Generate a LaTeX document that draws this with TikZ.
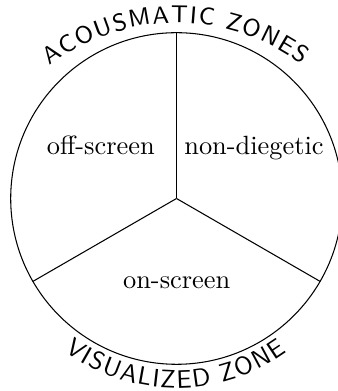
\documentclass[tikz,border=0pt]{standalone}
\usetikzlibrary{decorations.text,calc}
\begin{document}
\begin{tikzpicture}[x=0.379pt,y=0.379pt,
  zonelabel/.style={font=\fontsize{10}{12}\selectfont, anchor=base},
  divider/.style={draw=black, line width=0.4pt}]
\useasboundingbox (0,0) rectangle (337,391);
% wheel
\coordinate (O) at (176.5,192.5);
\draw[divider] (O) circle [radius=165.8];
\coordinate (Ptop) at ($(O)+(90:165.8)$);
\coordinate (Pleft) at ($(O)+(210:165.8)$);
\coordinate (Pright) at ($(O)+(330:165.8)$);
\draw[divider] (O) -- (Ptop);
\draw[divider] (O) -- (Pleft);
\draw[divider] (O) -- (Pright);
% sector labels
\node[zonelabel] (off) at (100.8,236) {off-screen};
\node[zonelabel] (nondieg) at (254,236) {non-diegetic};
\node[zonelabel] (on) at (176.7,102.7) {on-screen};
% curved titles
\coordinate (Ctop) at (176.5,160);
\coordinate (Cbot) at (176.5,191);
\path[decorate, decoration={text along path,
   text={|\fontsize{9.2}{11}\selectfont\sffamily|ACOUSMATIC ZONES},
   text align={fit to path}}]
  ($(Ctop)+(127.5:208)$) arc[start angle=127.5, end angle=53, radius=208];
\path[decorate, decoration={text along path,
   text={|\fontsize{9.6}{12}\selectfont\sffamily|VISUALIZED ZONE},
   text align={fit to path}}]
  ($(Cbot)+(233.5:188)$) arc[start angle=233.5, end angle=306, radius=188];
\end{tikzpicture}
\end{document}
